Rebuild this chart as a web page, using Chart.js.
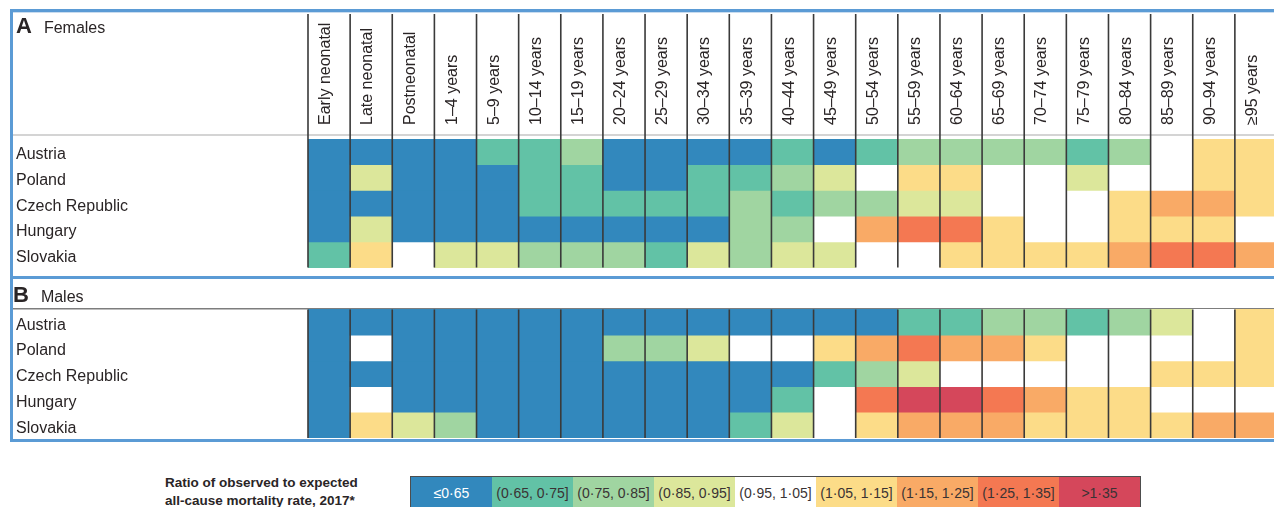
<!DOCTYPE html>
<html>
<head>
<meta charset="utf-8">
<script src="https://cdn.jsdelivr.net/npm/chart.js@4.4.1/dist/chart.umd.min.js"></script>
<style>
  html, body { margin: 0; padding: 0; background: #fff; overflow: hidden; }
  #wrap { position: relative; width: 1274px; height: 507px; overflow: hidden; }
  #chartBox { position: absolute; left: 0; top: 0; width: 1280px; height: 445px; }
  .ptitle { position: absolute; font-family: "Liberation Sans", Arial, sans-serif; color: #2a2526; line-height: 24px; white-space: nowrap; }
  .ptitle b { font-size: 22px; font-weight: bold; margin-right: 12px; }
  .ptitle span { font-size: 16px; }
  #legendTitle { position: absolute; left: 165px; top: 474px; font-family: "Liberation Sans", Arial, sans-serif; font-weight: bold; font-size: 13.5px; line-height: 18px; color: #2a2526; white-space: nowrap; }
  #legendKey { position: absolute; left: 410px; top: 476px; display: flex; border: 1px solid #4d4d4d; height: 34px; }
  #legendKey div { width: 81px; height: 34px; line-height: 33px; text-align: center; font-family: "Liberation Sans", Arial, sans-serif; font-size: 14px; color: #3a3334; white-space: nowrap; }
</style>
</head>
<body>
<div id="wrap">
  <div id="chartBox"><canvas id="heat"></canvas></div>
  <div class="ptitle" style="left:16px; top:14px;"><b>A</b><span>Females</span></div>
  <div class="ptitle" style="left:13px; top:283px;"><b>B</b><span>Males</span></div>
  <div id="legendTitle">Ratio of observed to expected<br>all-cause mortality rate, 2017*</div>
  <div id="legendKey"></div>
</div>
<script>
// Age groups (columns) and countries (rows)
const ages = ['Early neonatal', 'Late neonatal', 'Postneonatal', '1–4 years', '5–9 years',
  '10–14 years', '15–19 years', '20–24 years', '25–29 years', '30–34 years', '35–39 years',
  '40–44 years', '45–49 years', '50–54 years', '55–59 years', '60–64 years', '65–69 years',
  '70–74 years', '75–79 years', '80–84 years', '85–89 years', '90–94 years', '≥95 years'];
const countries = ['Austria', 'Poland', 'Czech Republic', 'Hungary', 'Slovakia'];

// Ratio of observed to expected all-cause mortality, 2017 — females
const femAustria  = [0.60, 0.60, 0.60, 0.60, 0.70, 0.70, 0.80, 0.60, 0.60, 0.60, 0.60, 0.70, 0.60, 0.70, 0.80, 0.80, 0.80, 0.80, 0.70, 0.80, 1.00, 1.10, 1.10];
const femPoland   = [0.60, 0.90, 0.60, 0.60, 0.60, 0.70, 0.70, 0.60, 0.60, 0.70, 0.70, 0.80, 0.90, 1.00, 1.10, 1.10, 1.00, 1.00, 0.90, 1.00, 1.00, 1.10, 1.10];
const femCzech    = [0.60, 0.60, 0.60, 0.60, 0.60, 0.70, 0.70, 0.70, 0.70, 0.70, 0.80, 0.70, 0.80, 0.80, 0.90, 0.90, 1.00, 1.00, 1.00, 1.10, 1.20, 1.20, 1.10];
const femHungary  = [0.60, 0.90, 0.60, 0.60, 0.60, 0.60, 0.60, 0.60, 0.60, 0.60, 0.80, 0.80, 1.00, 1.20, 1.30, 1.30, 1.10, 1.00, 1.00, 1.10, 1.10, 1.10, 1.00];
const femSlovakia = [0.70, 1.10, 1.00, 0.90, 0.90, 0.80, 0.80, 0.80, 0.70, 0.90, 0.80, 0.90, 0.90, 1.00, 1.00, 1.10, 1.10, 1.10, 1.10, 1.20, 1.30, 1.30, 1.20];

// Same ratio — males
const maleAustria  = [0.60, 0.60, 0.60, 0.60, 0.60, 0.60, 0.60, 0.60, 0.60, 0.60, 0.60, 0.60, 0.60, 0.60, 0.70, 0.70, 0.80, 0.80, 0.70, 0.80, 0.90, 1.00, 1.10];
const malePoland   = [0.60, 1.00, 0.60, 0.60, 0.60, 0.60, 0.60, 0.80, 0.80, 0.90, 1.00, 1.00, 1.10, 1.20, 1.30, 1.20, 1.20, 1.10, 1.00, 1.00, 1.00, 1.00, 1.10];
const maleCzech    = [0.60, 0.60, 0.60, 0.60, 0.60, 0.60, 0.60, 0.60, 0.60, 0.60, 0.60, 0.60, 0.70, 0.80, 0.90, 1.00, 1.00, 1.00, 1.00, 1.00, 1.10, 1.10, 1.10];
const maleHungary  = [0.60, 1.00, 0.60, 0.60, 0.60, 0.60, 0.60, 0.60, 0.60, 0.60, 0.60, 0.70, 1.00, 1.30, 1.40, 1.40, 1.30, 1.20, 1.10, 1.10, 1.00, 1.00, 1.00];
const maleSlovakia = [0.60, 1.10, 0.90, 0.80, 0.60, 0.60, 0.60, 0.60, 0.60, 0.60, 0.70, 0.90, 1.00, 1.10, 1.20, 1.20, 1.20, 1.10, 1.10, 1.10, 1.10, 1.20, 1.20];

// Colour key: upper bin edges, colours, labels
const binEdges  = [0.65, 0.75, 0.85, 0.95, 1.05, 1.15, 1.25, 1.35];
const binColors = ['#3288bd', '#62c2a6', '#a0d5a1', '#dce79b', '#ffffff', '#fcdc88', '#f9aa66', '#f47852', '#d5475b'];
const binLabels = ['≤0·65', '(0·65, 0·75]', '(0·75, 0·85]', '(0·85, 0·95]', '(0·95, 1·05]', '(1·05, 1·15]', '(1·15, 1·25]', '(1·25, 1·35]', '>1·35'];

const femaleRows = [femAustria, femPoland, femCzech, femHungary, femSlovakia];
const maleRows = [maleAustria, malePoland, maleCzech, maleHungary, maleSlovakia];

// Vertical layout in row units: females 0–5, males after a gap
const MALE_START = 6.63;
const Y_MAX = MALE_START + 5;
const FONT = '"Liberation Sans", Arial, sans-serif';
const TEXT = '#2a2526';

function colorFor(v) {
  let i = 0;
  while (i < binEdges.length && v > binEdges[i]) i++;
  return binColors[i];
}

const datasets = [];
[[femaleRows, 0, 'Females'], [maleRows, MALE_START, 'Males']].forEach(([rows, start, sex]) => {
  rows.forEach((vals, r) => {
    datasets.push({
      label: sex + ' – ' + countries[r],
      data: vals.map(() => [start + r, start + r + 1]),
      backgroundColor: vals.map(colorFor),
      borderWidth: 0,
      barPercentage: 1,
      categoryPercentage: 1,
      grouped: false
    });
  });
});

const rowCenters = [];
const rowNames = [];
[0, MALE_START].forEach(start => countries.forEach((c, r) => { rowCenters.push(start + r + 0.5); rowNames.push(c); }));

// Panel frames and rules
const framePlugin = {
  id: 'frames',
  beforeDraw(chart) {
    const ctx = chart.ctx;
    ctx.save();
    ctx.fillStyle = '#5b9bd5';
    ctx.fillRect(10, 9, 1275, 3);
    ctx.fillRect(10, 9, 3, 433);
    ctx.fillRect(10, 276, 1275, 3);
    ctx.fillRect(10, 439, 1275, 3);
    ctx.fillStyle = '#c9dcef';
    ctx.fillRect(13, 12, 1275, 1);
    ctx.fillStyle = '#d4d4d4';
    ctx.fillRect(13, 134, 1275, 2);
    ctx.fillStyle = '#7d7d7d';
    ctx.fillRect(13, 308, 1275, 1.5);
    ctx.restore();
  }
};

// Dark separators between age columns
const columnRules = {
  id: 'columnRules',
  afterDatasetsDraw(chart) {
    const xs = chart.scales.x, ys = chart.scales.y, ctx = chart.ctx;
    const w = xs.getPixelForValue(1) - xs.getPixelForValue(0);
    const x0 = xs.getPixelForValue(0) - w / 2;
    ctx.save();
    ctx.strokeStyle = '#3a3a3a';
    ctx.lineWidth = 1.6;
    for (let i = 0; i <= ages.length; i++) {
      const px = x0 + i * w;
      ctx.beginPath();
      ctx.moveTo(px, 14);
      ctx.lineTo(px, ys.getPixelForValue(5));
      ctx.moveTo(px, ys.getPixelForValue(MALE_START));
      ctx.lineTo(px, ys.getPixelForValue(MALE_START + 5));
      ctx.stroke();
    }
    ctx.restore();
  }
};

new Chart(document.getElementById('heat'), {
  type: 'bar',
  data: { labels: ages, datasets },
  options: {
    responsive: true,
    maintainAspectRatio: false,
    animation: false,
    events: [],
    layout: { padding: { left: 16, right: 3, top: 0, bottom: 7 } },
    plugins: { legend: { display: false }, tooltip: { enabled: false }, title: { display: false } },
    scales: {
      x: {
        type: 'category',
        position: 'top',
        offset: true,
        grid: { display: false, drawTicks: false },
        border: { display: false },
        ticks: {
          autoSkip: false,
          minRotation: 90,
          maxRotation: 90,
          padding: 14,
          labelOffset: 16,
          color: TEXT,
          font: { family: FONT, size: 16 }
        },
        afterFit(scale) { scale.height = 139; }
      },
      y: {
        type: 'linear',
        reverse: true,
        min: 0,
        max: Y_MAX,
        grid: { display: false, drawTicks: false },
        border: { display: false },
        afterBuildTicks(scale) { scale.ticks = rowCenters.map(v => ({ value: v })); },
        ticks: {
          autoSkip: false,
          crossAlign: 'far',
          labelOffset: 3,
          color: TEXT,
          font: { family: FONT, size: 16 },
          callback: (value, index) => rowNames[index]
        },
        afterFit(scale) {
          scale.width = 292;
          scale.paddingTop = 0;
          scale.paddingBottom = 0;
        }
      }
    }
  },
  plugins: [framePlugin, columnRules]
});

// Colour key
const key = document.getElementById('legendKey');
binLabels.forEach((txt, i) => {
  const cell = document.createElement('div');
  cell.textContent = txt;
  cell.style.background = binColors[i];
  if (i === 0) cell.style.color = '#ffffff';
  key.appendChild(cell);
});
</script>
</body>
</html>
